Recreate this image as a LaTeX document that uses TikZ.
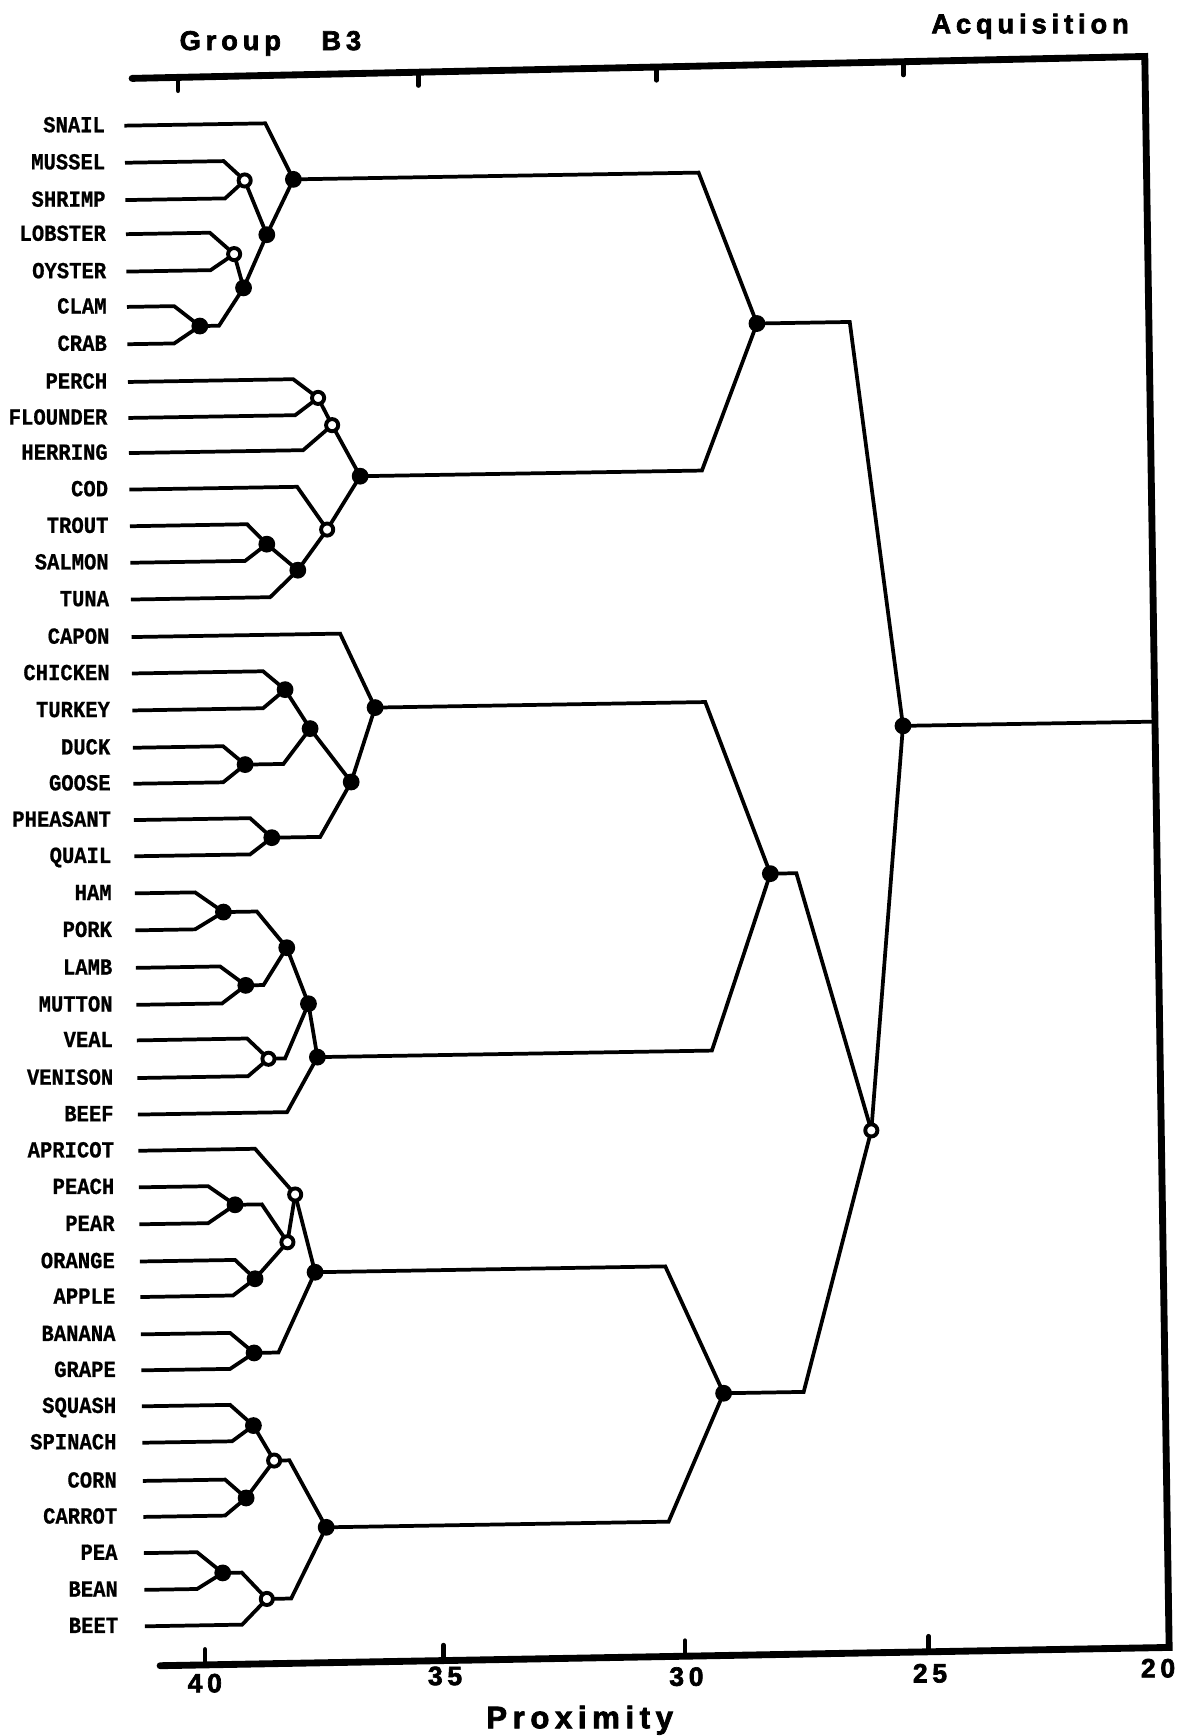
\documentclass[tikz,border=0pt]{standalone}
\usepackage{fontspec}
\newfontfamily\labfont{Liberation Mono}[BoldFeatures={FakeBold=0.8}]
\newfontfamily\hdfont{Liberation Sans}[LetterSpace=18, BoldFeatures={FakeBold=2.5}]
\pgfdeclarelayer{bg}
\pgfsetlayers{bg,main}
\tikzset{
  x=0.25mm, y=-0.25mm,
  leaflbl/.style={anchor=base east, inner sep=0pt, font=\labfont\bfseries\fontsize{13.2}{14}\selectfont},
  treeln/.style={line width=2.4pt, line join=miter},
  fdot/.style={circle, fill=black, inner sep=0pt, minimum size=10.8pt},
  odot/.style={circle, draw=black, fill=white, line width=2.5pt, inner sep=0pt, minimum size=7.8pt},
  frameln/.style={line width=4.4pt, line cap=round, line join=miter},
  tickln/.style={line width=3pt, line cap=round},
  hdtxt/.style={inner sep=0pt, font=\hdfont\bfseries\fontsize{17.5}{20}\selectfont},
  numtxt/.style={inner sep=0pt, anchor=base, font=\hdfont\bfseries\fontsize{17}{20}\selectfont},
}
\begin{document}
\begin{tikzpicture}
\useasboundingbox (0,0) rectangle (1069,1568);

% frame / axes
\coordinate (tl) at (119.3,70.8);
\coordinate (tr) at (1034,51);
\coordinate (br) at (1056,1488);
\coordinate (bl) at (144.6,1504.5);
\draw[frameln] (tl) -- (tr) -- (br) -- (bl);
\foreach \x/\y in {160.8/69.9, 378/65.2, 593/60.5, 816/55.7}
  \draw[tickln] (\x,\y) -- (\x,{\y+12});
\foreach \x/\y in {185.2/1503.8, 400.5/1499.9, 618.6/1495.9, 838.8/1491.9}
  \draw[tickln] (\x,\y) -- (\x,{\y-14});

% titles
\node[hdtxt, anchor=base west] (ttl) at (162,45.2) {Group\hspace{26pt}B3};
\node[hdtxt, anchor=base west] (acq) at (841,30.1) {Acquisition};
\node[numtxt] (n40) at (185,1528.5) {40};
\node[numtxt] (n35) at (402,1522) {35};
\node[numtxt] (n30) at (620,1522.6) {30};
\node[numtxt] (n25) at (840,1519.6) {25};
\node[numtxt] (n20) at (1046,1515) {20};
\node[hdtxt, anchor=base west, font=\hdfont\bfseries\fontsize{20}{22}\selectfont] (prx) at (439,1561) {Proximity};

% internal nodes
\node[fdot] (A) at (265,162) {};
\node[odot] (M) at (221,163) {};
\node[fdot] (B) at (241,212) {};
\node[odot] (L) at (211.5,229.5) {};
\node[fdot] (C) at (220,260) {};
\node[fdot] (D) at (180.5,294.5) {};
\node[odot] (P1) at (287.3,359.4) {};
\node[odot] (P2) at (300,384) {};
\node[fdot] (F) at (325.3,430.1) {};
\node[odot] (P3) at (295.5,478.3) {};
\node[fdot] (T1) at (241,491.5) {};
\node[fdot] (T2) at (269,515) {};
\node[fdot] (G) at (338.8,639.1) {};
\node[fdot] (H1) at (257.5,622.9) {};
\node[fdot] (H2) at (280.1,658.1) {};
\node[fdot] (H3) at (221.4,690.6) {};
\node[fdot] (H4) at (317.2,706.3) {};
\node[fdot] (H5) at (245.5,756.6) {};
\node[fdot] (K1) at (201.8,823.8) {};
\node[fdot] (K2) at (259,856) {};
\node[fdot] (K3) at (222,890) {};
\node[fdot] (K4) at (278.6,906.6) {};
\node[odot] (K5) at (242.5,956.3) {};
\node[fdot] (K6) at (286.7,954.8) {};
\node[odot] (Q1) at (266.6,1078.9) {};
\node[fdot] (Q2) at (212.3,1088.2) {};
\node[odot] (Q3) at (259.6,1122) {};
\node[fdot] (Q4) at (230.4,1155) {};
\node[fdot] (Q5) at (284.6,1149.1) {};
\node[fdot] (Q6) at (229.5,1222) {};
\node[fdot] (V1) at (228.9,1287.6) {};
\node[odot] (V2) at (247.6,1319.2) {};
\node[fdot] (V3) at (222.3,1353) {};
\node[fdot] (V4) at (294.6,1379.5) {};
\node[fdot] (V5) at (201.2,1420.7) {};
\node[odot] (V6) at (241,1444.2) {};
\node[fdot] (E) at (683.7,292.2) {};
\node[fdot] (N) at (695.8,789.1) {};
\node[fdot] (S) at (653.6,1258.4) {};
\node[odot] (W) at (787,1021) {};
\node[fdot] (Z) at (815.6,655.6) {};

% bend points
\coordinate (bD) at (197.8,294.2);
\coordinate (bH3) at (256,690.0);
\coordinate (bH5) at (289.2,755.9);
\coordinate (bK1) at (232,823.3);
\coordinate (bK3) at (238,889.7);
\coordinate (bK5) at (257.5,956.0);
\coordinate (bQ2) at (236.5,1087.8);
\coordinate (bQ6) at (251.5,1221.6);
\coordinate (bV2) at (261.4,1319.0);
\coordinate (bV5) at (218.4,1420.4);
\coordinate (bV6) at (263,1443.8);
\coordinate (bA) at (631,155.9);
\coordinate (bF) at (634,425.0);
\coordinate (bE) at (767.5,290.8);
\coordinate (bG) at (637,634.1);
\coordinate (bK6) at (643,948.9);
\coordinate (bN) at (719.3,788.7);
\coordinate (bQ5) at (600.9,1143.8);
\coordinate (bV4) at (603.9,1374.4);
\coordinate (bS) at (725.9,1257.2);
\coordinate (zr) at (1043,651.8);

\begin{pgfonlayer}{bg}
\foreach \a/\b in {M/B, B/A, L/C, C/B, P1/P2, P2/F, T1/T2, T2/P3, P3/F, H1/H2, H2/H4, H4/G, K2/K4, K4/K6, Q4/Q3, Q3/Q1, Q1/Q5, V1/V2, V3/V2, W/Z}
  \draw[treeln] (\a.center) -- (\b.center);
\foreach \a/\c/\b in {D/bD/C, H3/bH3/H2, H5/bH5/H4, K1/bK1/K2, K3/bK3/K2, K5/bK5/K4, Q2/bQ2/Q3, Q6/bQ6/Q5, V2/bV2/V4, V5/bV5/V6, V6/bV6/V4, A/bA/E, F/bF/E, E/bE/Z, G/bG/N, K6/bK6/N, N/bN/W, Q5/bQ5/S, V4/bV4/S, S/bS/W}
  \draw[treeln] (\a.center) -- (\c) -- (\b.center);
\draw[treeln] (Z.center) -- (zr);
\end{pgfonlayer}

% leaves
\foreach \i/\t/\r/\sx/\ys/\bx/\ye/\p in {
1/SNAIL/95.0/112.4/113.5/239.6/111.4/A,
2/MUSSEL/95.3/112.9/147.0/202/145.5/M,
3/SHRIMP/95.6/113.3/180.7/203.3/179.2/M,
4/LOBSTER/95.9/113.8/211.5/189.5/210.2/L,
5/OYSTER/96.2/114.2/245.3/190.2/244/L,
6/CLAM/96.5/114.7/277.2/157.3/276.5/D,
7/CRAB/96.8/115.1/310.9/157.3/310.2/D,
8/PERCH/97.1/115.6/345.0/264.8/342.5/P1,
9/FLOUNDER/97.3/116.0/377.5/266.6/375/P1,
10/HERRING/97.6/116.5/409.2/273.8/406.6/P2,
11/COD/97.9/116.9/442.2/268.4/439.7/P3,
12/TROUT/98.2/117.4/475.3/223.2/473.5/T1,
13/SALMON/98.5/117.8/508.3/221.4/506.6/T1,
14/TUNA/98.8/118.3/541.5/244/539.4/T2,
15/CAPON/99.1/118.8/575.4/307.2/572.3/G,
16/CHICKEN/99.4/119.2/608.3/237.6/606.3/H1,
17/TURKEY/99.6/119.6/641.7/237.6/639.7/H1,
18/DUCK/99.9/120.1/675.4/201.5/674/H3,
19/GOOSE/100.2/120.5/707.9/201.5/706.6/H3,
20/PHEASANT/100.5/121.0/740.7/225.9/739/H5,
21/QUAIL/100.8/121.4/773.4/225.9/771.7/H5,
22/HAM/101.1/121.9/806.9/176.2/806/K1,
23/PORK/101.4/122.3/840.3/176.2/839.4/K1,
24/LAMB/101.7/122.8/874.2/198.8/872.9/K3,
25/MUTTON/102.0/123.2/907.6/200.6/906.3/K3,
26/VEAL/102.3/123.7/939.7/223.2/938/K5,
27/VENISON/102.6/124.1/973.7/224.1/972/K5,
28/BEEF/102.9/124.6/1006.7/259.3/1004.5/K6,
29/APRICOT/103.2/125.0/1039.4/230.4/1037.6/Q1,
30/PEACH/103.5/125.5/1072.4/188/1071.4/Q2,
31/PEAR/103.8/125.9/1105.8/188/1104.8/Q2,
32/ORANGE/104.0/126.4/1139.4/212.3/1138/Q4,
33/APPLE/104.3/126.8/1171.5/210.5/1170.1/Q4,
34/BANANA/104.6/127.3/1205.2/207.8/1203.9/Q6,
35/GRAPE/104.9/127.7/1237.7/207.8/1236.4/Q6,
36/SQUASH/105.2/128.2/1270.2/207.8/1268.9/V1,
37/SPINACH/105.5/128.6/1303.1/209.6/1301.8/V1,
38/CORN/105.8/129.1/1337.6/203.3/1336.4/V3,
39/CARROT/106.1/129.5/1370.1/203.3/1368.9/V3,
40/PEA/106.4/130.0/1402.8/178/1402/V5,
41/BEAN/106.7/130.4/1436.0/178/1435.2/V5,
42/BEET/107.0/130.9/1468.9/218.7/1467.4/V6}
{
  \node[leaflbl] (l\i) at ({\r},{\ys+6}) {\scalebox{1}[1.12]{\t}};
  \coordinate (s\i) at ({\sx},{\ys});
  \coordinate (b\i) at ({\bx},{\ye});
  \begin{pgfonlayer}{bg}
    \draw[treeln] (s\i) -- (b\i) -- (\p.center);
  \end{pgfonlayer}
}
\end{tikzpicture}
\end{document}
